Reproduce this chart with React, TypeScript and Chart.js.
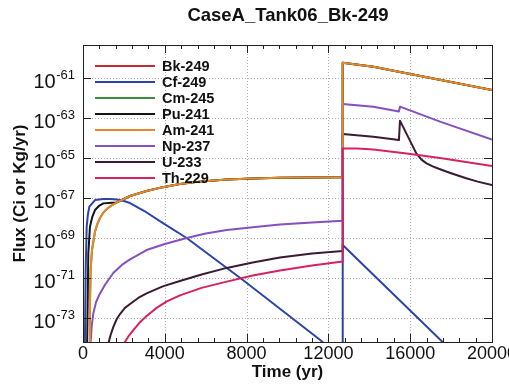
import React, { useEffect, useRef } from "react";
import { Chart, registerables } from "chart.js";

Chart.register(...registerables);

type Pt = [number, number];

const chartTitle = "CaseA_Tank06_Bk-249";
const xAxisTitle = "Time (yr)";
const yAxisTitle = "Flux (Ci or Kg/yr)";

const xMin = 0;
const xMax = 20000;
const xMajorTicks = [0, 4000, 8000, 12000, 16000, 20000];
const xTickLabels = ["0", "4000", "8000", "12000", "16000", "20000"];
const xMinorStep = 800;
const yMin = 6.3e-75;
const yMax = 4.5e-60;
const yTickExponents = [-73, -71, -69, -67, -65, -63, -61];
const yTickLabels = ["-73", "-71", "-69", "-67", "-65", "-63", "-61"];

const seriesLabels = ["Bk-249", "Cf-249", "Cm-245", "Pu-241", "Am-241", "Np-237", "U-233", "Th-229"];
const seriesColors = ["#c42a34", "#2c44aa", "#3d8c3d", "#151515", "#e8872b", "#8650be", "#3a1a34", "#d42262"];
// lower = drawn on top
const drawOrder = [7, 4, 6, 5, 1, 2, 3, 0];

// [year, flux]
const bk249: Pt[] = [];
const cf249: Pt[] = [
  [90, 3.2e-75], [130, 2.5e-71], [180, 3.7e-69], [240, 1.5e-68], [310, 3.7e-68],
  [590, 7.9e-68], [1000, 8.9e-68], [1300, 8.9e-68], [1650, 8.5e-68], [2000, 7.1e-68],
  [2300, 5.6e-68], [3000, 2.24e-68], [3930, 5.4e-69], [5070, 1.0e-69],
  [7820, 7.9e-72], [11600, 7.9e-75], [12700, 8.0e-76],
  [12700, 4.5e-70], [20000, 2.5e-77],
];
const am241: Pt[] = [
  [300, 3.2e-75], [342, 5.4e-73], [375, 2.5e-71], [440, 2.5e-70], [587, 2.1e-69],
  [700, 5.0e-69], [830, 1.0e-68], [1000, 1.9e-68], [1160, 2.8e-68], [1400, 4.3e-68],
  [1650, 6.0e-68], [2300, 1.26e-67], [3110, 2.24e-67], [3900, 3.5e-67], [4740, 5.0e-67],
  [5800, 6.8e-67], [7030, 8.5e-67], [8300, 9.5e-67], [9630, 1.02e-66], [12700, 1.1e-66],
  [12700, 5.9e-61], [14200, 3.7e-61], [15500, 2.0e-61], [20000, 2.5e-62],
];
const cm245: Pt[] = [
  [300, 3.2e-75], [342, 5.4e-73], [375, 2.5e-71], [440, 2.5e-70], [587, 2.1e-69],
  [700, 5.0e-69], [830, 1.0e-68], [1000, 1.9e-68], [1160, 2.8e-68], [1400, 4.3e-68],
  [1650, 6.0e-68], [2300, 1.26e-67], [3110, 2.24e-67], [3900, 3.5e-67], [4740, 5.0e-67],
  [5800, 6.8e-67], [7030, 8.5e-67], [8300, 9.5e-67], [9630, 1.02e-66], [12700, 1.1e-66],
  [12700, 5.9e-61], [14200, 3.7e-61], [15500, 2.0e-61], [20000, 2.5e-62],
];
const pu241: Pt[] = [
  [200, 3.2e-75], [260, 1.7e-70], [342, 3.7e-69], [450, 1.1e-68], [587, 2.5e-68],
  [780, 4.0e-68], [995, 5.4e-68], [1400, 5.8e-68], [1650, 6.0e-68],
  [2300, 1.26e-67], [3110, 2.24e-67], [3900, 3.5e-67], [4740, 5.0e-67],
  [5800, 6.8e-67], [7030, 8.5e-67], [8300, 9.5e-67], [9630, 1.02e-66], [12700, 1.1e-66],
  [12700, 5.9e-61], [14200, 3.7e-61], [15500, 2.0e-61], [20000, 2.5e-62],
];
const np237: Pt[] = [
  [340, 3.2e-75], [390, 1.0e-74], [425, 4.0e-74], [505, 1.7e-73], [640, 6.3e-73],
  [830, 1.7e-72], [1100, 5.0e-72], [1480, 1.78e-71], [1900, 4.5e-71], [2300, 8.5e-71],
  [3110, 2.5e-70], [4000, 5.0e-70], [5070, 1.0e-69], [6000, 1.7e-69], [7030, 2.5e-69],
  [8300, 3.5e-69], [9630, 4.7e-69], [11200, 6.0e-69], [12700, 7.4e-69],
  [12700, 5.0e-63], [14200, 3.7e-63], [15450, 2.1e-63], [15500, 3.7e-63],
  [17460, 6.6e-64], [20000, 8.5e-65],
];
const u233: Pt[] = [
  [1185, 3.2e-75], [1350, 1.41e-74], [1480, 3.5e-74], [1650, 8.9e-74], [1810, 1.58e-73],
  [2050, 3.2e-73], [2300, 5.0e-73], [2700, 1.0e-72], [3110, 1.7e-72], [3900, 3.8e-72],
  [4740, 7.1e-72], [5800, 1.51e-71], [7030, 3.2e-71], [8300, 6.0e-71], [9630, 1.07e-70],
  [11200, 1.66e-70], [12700, 2.24e-70],
  [12700, 1.6e-64], [14200, 1.17e-64], [15450, 7.9e-65], [15500, 7.4e-64],
  [15890, 1.17e-64], [16300, 1.7e-65], [16550, 8.3e-66], [16800, 5.4e-66],
  [17100, 3.8e-66], [17460, 2.75e-66], [18000, 1.74e-66], [18700, 1.0e-66],
  [19300, 6.6e-67], [20000, 4.5e-67],
];
const th229: Pt[] = [
  [1860, 3.2e-75], [2250, 1.32e-74], [2460, 2.5e-74], [2750, 5.6e-74], [3110, 1.26e-73],
  [3600, 3.2e-73], [4100, 6.8e-73], [4740, 1.35e-72], [5800, 3.2e-72], [7030, 6.6e-72],
  [8300, 1.32e-71], [9630, 2.4e-71], [11200, 4.2e-71], [12700, 6.6e-71],
  [12700, 3.0e-65], [13400, 3.0e-65], [14200, 2.7e-65], [15830, 1.7e-65],
  [17460, 1.0e-65], [20000, 4.0e-66],
];

const seriesData: Pt[][] = [bk249, cf249, cm245, pu241, am241, np237, u233, th229];

const FONT = '"Liberation Sans", Arial, Helvetica, sans-serif';

const decorPlugin = {
  id: "decor",
  beforeDatasetsDraw(chart: any) {
    const { ctx, chartArea: a, scales } = chart;
    const xs = scales.x;
    const ys = scales.y;
    ctx.save();
    ctx.strokeStyle = "rgba(150,150,150,0.8)";
    ctx.lineWidth = 1;
    ctx.setLineDash([1, 2]);
    ctx.beginPath();
    for (const v of xMajorTicks) {
      if (v <= xMin || v >= xMax) continue;
      const px = Math.round(xs.getPixelForValue(v)) + 0.5;
      ctx.moveTo(px, a.top);
      ctx.lineTo(px, a.bottom);
    }
    for (const e of yTickExponents) {
      const py = Math.round(ys.getPixelForValue(Math.pow(10, e))) + 0.5;
      ctx.moveTo(a.left, py);
      ctx.lineTo(a.right, py);
    }
    ctx.stroke();
    ctx.restore();
  },
  afterDatasetsDraw(chart: any) {
    const { ctx, chartArea: a } = chart;
    ctx.save();
    ctx.font = `bold 14.5px ${FONT}`;
    ctx.textBaseline = "middle";
    ctx.textAlign = "left";
    seriesLabels.forEach((lab, i) => {
      const y = a.top + 21 + i * 16;
      ctx.strokeStyle = seriesColors[i];
      ctx.lineWidth = 2;
      ctx.beginPath();
      ctx.moveTo(a.left + 12, y);
      ctx.lineTo(a.left + 72, y);
      ctx.stroke();
      ctx.fillStyle = "#111";
      ctx.fillText(lab, a.left + 79, y + 1);
    });
    ctx.restore();
  },
  afterDraw(chart: any) {
    const { ctx, chartArea: a, scales } = chart;
    const xs = scales.x;
    const ys = scales.y;
    ctx.save();
    ctx.strokeStyle = "#222";
    ctx.lineWidth = 1;
    ctx.strokeRect(a.left + 0.5, a.top + 0.5, a.right - a.left, a.bottom - a.top);
    ctx.beginPath();
    for (let v = xMin; v <= xMax; v += xMinorStep) {
      const px = Math.round(xs.getPixelForValue(v)) + 0.5;
      const len = xMajorTicks.includes(v) ? 8 : 4;
      ctx.moveTo(px, a.bottom);
      ctx.lineTo(px, a.bottom - len);
      ctx.moveTo(px, a.top);
      ctx.lineTo(px, a.top + len);
    }
    for (const e of yTickExponents) {
      const py = Math.round(ys.getPixelForValue(Math.pow(10, e))) + 0.5;
      ctx.moveTo(a.left, py);
      ctx.lineTo(a.left + 8, py);
      ctx.moveTo(a.right, py);
      ctx.lineTo(a.right - 8, py);
    }
    ctx.stroke();

    ctx.fillStyle = "#111";
    ctx.font = `18px ${FONT}`;
    ctx.textAlign = "center";
    ctx.textBaseline = "alphabetic";
    xMajorTicks.forEach((v, i) => {
      ctx.fillText(xTickLabels[i], xs.getPixelForValue(v), a.bottom + 17);
    });
    const right = a.left - 8;
    yTickExponents.forEach((e, i) => {
      const py = ys.getPixelForValue(Math.pow(10, e));
      ctx.textAlign = "left";
      ctx.font = `13px ${FONT}`;
      const we = ctx.measureText(yTickLabels[i]).width;
      ctx.font = `20px ${FONT}`;
      const wb = ctx.measureText("10").width;
      ctx.fillText("10", right - we - wb - 0.5, py + 10);
      ctx.font = `13px ${FONT}`;
      ctx.fillText(yTickLabels[i], right - we, py + 1);
    });
    ctx.font = `bold 18.5px ${FONT}`;
    ctx.textAlign = "center";
    ctx.fillText(chartTitle, 288, 21);
    ctx.font = `bold 17px ${FONT}`;
    ctx.fillText(xAxisTitle, (a.left + a.right) / 2, a.bottom + 35);
    ctx.translate(20, (a.top + a.bottom) / 2);
    ctx.rotate(-Math.PI / 2);
    ctx.textBaseline = "middle";
    ctx.fillText(yAxisTitle, 0, 0);
    ctx.restore();
  },
};

export default function App() {
  const ref = useRef<HTMLCanvasElement | null>(null);
  useEffect(() => {
    if (!ref.current) return;
    const chart = new Chart(ref.current, {
      type: "line",
      data: {
        datasets: seriesLabels.map((label, i) => ({
          label,
          data: seriesData[i].map(([x, y]) => ({ x, y })),
          borderColor: seriesColors[i],
          backgroundColor: seriesColors[i],
          borderWidth: 2,
          pointRadius: 0,
          fill: false,
          tension: 0,
          borderJoinStyle: "round",
          order: drawOrder[i],
        })),
      },
      options: {
        responsive: false,
        animation: false,
        devicePixelRatio: 1,
        layout: { padding: { left: 83, right: 17, top: 45, bottom: 44 } },
        scales: {
          x: { type: "linear", min: xMin, max: xMax, display: false },
          y: { type: "logarithmic", min: yMin, max: yMax, display: false },
        },
        plugins: {
          legend: { display: false },
          title: { display: false },
          tooltip: { enabled: false },
        },
      },
      plugins: [decorPlugin],
    } as any);
    return () => chart.destroy();
  }, []);
  return (
    <div style={{ position: "fixed", left: 0, top: 0, width: 509, height: 386, background: "#fff" }}>
      <canvas ref={ref} width={509} height={386} />
    </div>
  );
}
